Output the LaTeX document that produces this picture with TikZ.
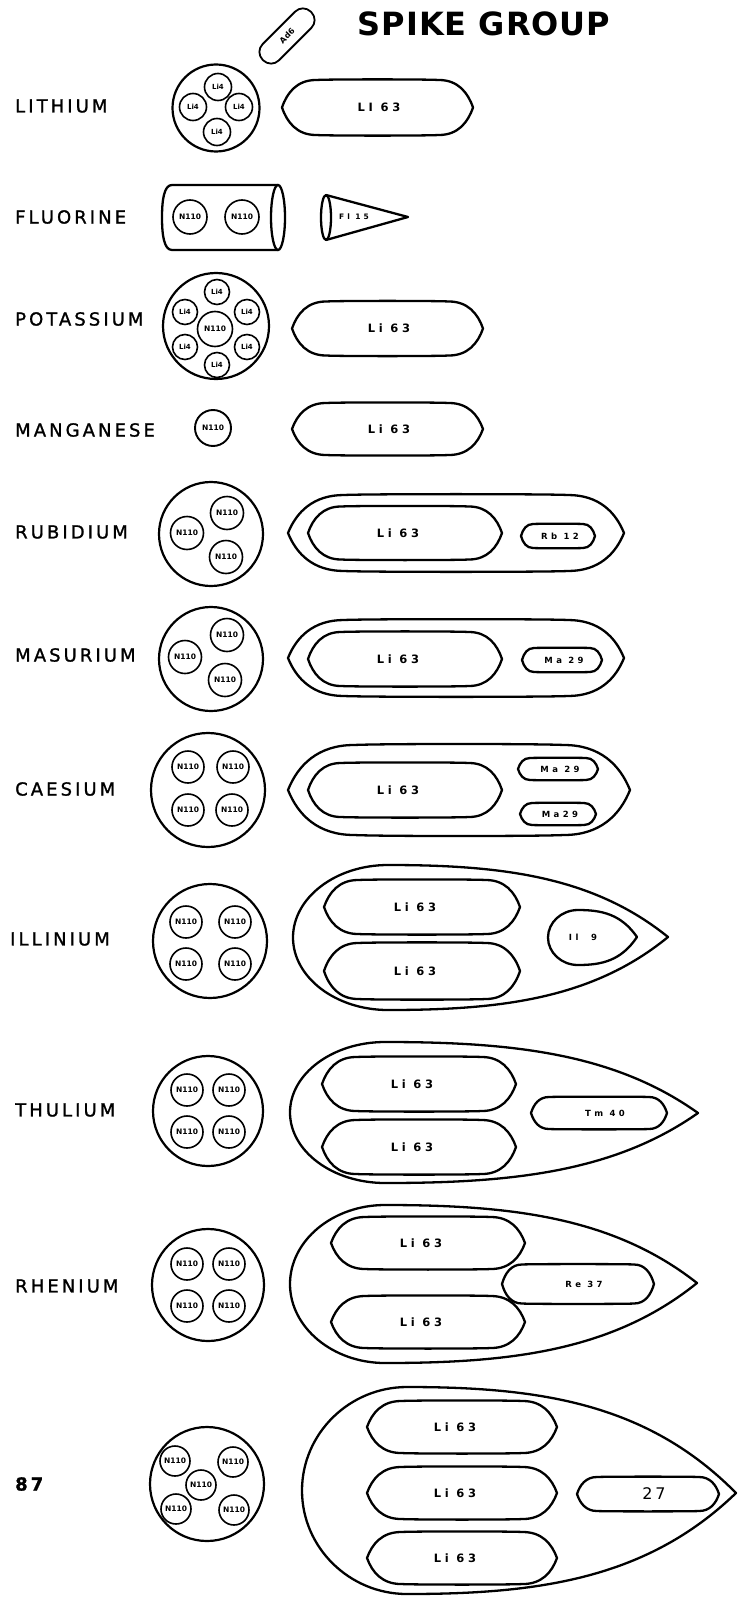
\documentclass[tikz,border=0pt]{standalone}
\usepackage{fontspec}
\setmainfont{DejaVu Sans}
\newfontfamily\labfont[LetterSpace=17,FakeBold=1.2]{DejaVu Sans}
\newfontfamily\titfont[LetterSpace=3]{DejaVu Sans}
\newfontfamily\smfont[LetterSpace=32]{DejaVu Sans}
\newfontfamily\ssfont[LetterSpace=40]{DejaVu Sans}
\newfontfamily\tnfont{DejaVu Sans}
% lens: [style]{cx}{cy}{half width}{half height}{end length}
\newcommand{\lensp}[6][]{%
 \draw[shp,#1] ({#2-#4},{#3})
  .. controls ({#2-#4+0.15*#6},{#3-0.55*#5}) and ({#2-#4+0.45*#6},{#3-#5}) .. ({#2-#4+#6},{#3-#5})
  .. controls ({#2-#4+1.4*#6},{#3-1.03*#5}) and ({#2+#4-1.4*#6},{#3-1.03*#5}) .. ({#2+#4-#6},{#3-#5})
  .. controls ({#2+#4-0.45*#6},{#3-#5}) and ({#2+#4-0.15*#6},{#3-0.55*#5}) .. ({#2+#4},{#3})
  .. controls ({#2+#4-0.15*#6},{#3+0.55*#5}) and ({#2+#4-0.45*#6},{#3+#5}) .. ({#2+#4-#6},{#3+#5})
  .. controls ({#2+#4-1.4*#6},{#3+1.03*#5}) and ({#2-#4+1.4*#6},{#3+1.03*#5}) .. ({#2-#4+#6},{#3+#5})
  .. controls ({#2-#4+0.45*#6},{#3+#5}) and ({#2-#4+0.15*#6},{#3+0.55*#5}) .. ({#2-#4},{#3}) -- cycle;}
% teardrop: {xl}{xt}{yt}{yb}{tip y}{rx}
\newcommand{\tdrop}[6]{%
 \draw[shp] ({#2},{#5})
  .. controls ({#2-0.27*(#2-#1-#6)},{#5-0.85*(#5-#3)}) and ({#1+#6+0.4*(#2-#1-#6)},{#3}) .. ({#1+#6},{#3})
  .. controls ({#1+0.45*#6},{#3}) and ({#1},{0.5*(#3+#4)-0.275*(#4-#3)}) .. ({#1},{0.5*(#3+#4)})
  .. controls ({#1},{0.5*(#3+#4)+0.275*(#4-#3)}) and ({#1+0.45*#6},{#4}) .. ({#1+#6},{#4})
  .. controls ({#1+#6+0.4*(#2-#1-#6)},{#4}) and ({#2-0.27*(#2-#1-#6)},{#5+0.85*(#4-#5)}) .. ({#2},{#5}) -- cycle;}
\tikzset{
 elem/.style={font=\labfont\fontsize{18}{18}\selectfont, anchor=west, inner sep=0pt},
 ttl/.style={font=\titfont\bfseries\fontsize{32}{32}\selectfont, inner sep=0pt},
 nuc/.style={draw, circle, line width=1.6pt, inner sep=0pt, font=\tnfont\bfseries\fontsize{7.5}{7.5}\selectfont},
 nucs/.style={nuc, font=\tnfont\bfseries\fontsize{7}{7}\selectfont},
 big/.style={draw, circle, line width=2.2pt, inner sep=0pt},
 shp/.style={line width=2.3pt, line join=round},
 ltxt/.style={font=\smfont\bfseries\fontsize{11.5}{11.5}\selectfont, inner sep=0pt},
 stxt/.style={font=\ssfont\bfseries\fontsize{8.5}{8.5}\selectfont, inner sep=0pt},
}
\begin{document}
\begin{tikzpicture}[x=1pt,y=-1pt]
\useasboundingbox (0,0) rectangle (737,1597);

\node[ttl] (title) at (484,24) {SPIKE GROUP};
\node[draw, line width=1.8pt, rounded corners=11pt, minimum width=68pt, minimum height=23pt, inner sep=0pt, rotate=45, font=\tnfont\bfseries\fontsize{8}{8}\selectfont] (ad6) at (287,36) {Ad6};

% labels
\node[elem] (l1) at (15,106) {LITHIUM};
\node[elem] (l2) at (15,217) {FLUORINE};
\node[elem] (l3) at (15,319) {POTASSIUM};
\node[elem] (l4) at (15,430) {MANGANESE};
\node[elem] (l5) at (15,532) {RUBIDIUM};
\node[elem] (l6) at (15,655) {MASURIUM};
\node[elem] (l7) at (15,789) {CAESIUM};
\node[elem] (l8) at (10,939) {ILLINIUM};
\node[elem] (l9) at (15,1110) {THULIUM};
\node[elem] (l10) at (15,1286) {RHENIUM};
\node[elem, font=\labfont\bfseries\fontsize{18}{18}\selectfont] (l11) at (15,1484) {87};

% Lithium
\node[big, minimum size=87pt] (c1) at (216,108) {};
\node[nucs, minimum size=27pt] (c1a) at (218,87) {Li4};
\node[nucs, minimum size=27pt] (c1b) at (193,107) {Li4};
\node[nucs, minimum size=27pt] (c1c) at (239,107) {Li4};
\node[nucs, minimum size=27pt] (c1d) at (217,132) {Li4};
\lensp{377.5}{107.5}{95.5}{27.5}{34}
\node[ltxt] (t1) at (379,107) {LI 63};

% Fluorine
\draw[shp] (278,185) -- (172,185) .. controls (164,185) and (162,200) .. (162,217.5)
  .. controls (162,235) and (164,250) .. (172,250) -- (278,250);
\draw[shp] (278,217.5) ellipse[x radius=7, y radius=32.5];
\node[nuc, minimum size=34pt] (c2a) at (190,217) {N110};
\node[nuc, minimum size=34pt] (c2b) at (242,217) {N110};
\draw[shp] (326,195) -- (408,217) -- (326,240);
\draw[shp] (326,217.5) ellipse[x radius=5, y radius=22.5];
\node[stxt, font=\ssfont\bfseries\fontsize{7.5}{7.5}\selectfont] (t2) at (354,217) {Fl 15};

% Potassium
\node[big, minimum size=106pt] (c3) at (216,326) {};
\node[nuc, minimum size=35pt] (c3n) at (215,329) {N110};
\node[nucs, minimum size=25pt] (c3a) at (217,292) {Li4};
\node[nucs, minimum size=25pt] (c3b) at (185,312) {Li4};
\node[nucs, minimum size=25pt] (c3c) at (247,312) {Li4};
\node[nucs, minimum size=25pt] (c3d) at (185,347) {Li4};
\node[nucs, minimum size=25pt] (c3e) at (247,347) {Li4};
\node[nucs, minimum size=25pt] (c3f) at (217,365) {Li4};
\lensp{387.5}{328.5}{95.5}{27}{34}
\node[ltxt] (t3) at (389,328) {Li 63};

% Manganese
\node[nuc, minimum size=36pt, line width=1.9pt] (c4) at (213,428) {N110};
\lensp{387.5}{429}{95.5}{26}{34}
\node[ltxt] (t4) at (389,429) {Li 63};

% Rubidium
\node[big, minimum size=104pt] (c5) at (211,534) {};
\node[nuc, minimum size=33pt] (c5a) at (227,513) {N110};
\node[nuc, minimum size=33pt] (c5b) at (187,533) {N110};
\node[nuc, minimum size=33pt] (c5c) at (226,557) {N110};
\lensp{456}{533}{168}{38}{56}
\lensp{405}{533}{97}{26.5}{33}
\node[ltxt] (t5) at (398,533) {Li 63};
\lensp{558}{536}{37}{12}{12}
\node[stxt] (t5b) at (560,536) {Rb 12};

% Masurium
\node[big, minimum size=104pt] (c6) at (211,659) {};
\node[nuc, minimum size=33pt] (c6a) at (227,635) {N110};
\node[nuc, minimum size=33pt] (c6b) at (185,657) {N110};
\node[nuc, minimum size=33pt] (c6c) at (225,680) {N110};
\lensp{456}{658}{168}{38}{56}
\lensp{405}{659}{97}{27}{33}
\node[ltxt] (t6) at (398,659) {Li 63};
\lensp{562}{660}{40}{12}{12}
\node[stxt] (t6b) at (564,660) {Ma 29};

% Caesium
\node[big, minimum size=114pt] (c7) at (208,790) {};
\node[nuc, minimum size=32pt] (c7a) at (188,767) {N110};
\node[nuc, minimum size=32pt] (c7b) at (233,767) {N110};
\node[nuc, minimum size=32pt] (c7c) at (188,810) {N110};
\node[nuc, minimum size=32pt] (c7d) at (232,810) {N110};
\lensp{459}{790}{171}{45}{66}
\lensp{405}{790}{97}{27}{33}
\node[ltxt] (t7) at (398,790) {Li 63};
\lensp{558}{769}{40}{11}{12}
\node[stxt] (t7b) at (560,769) {Ma 29};
\lensp{558}{814}{38}{11}{12}
\node[stxt] (t7c) at (560,814) {Ma29};

% Illinium
\node[big, minimum size=114pt] (c8) at (210,941) {};
\node[nuc, minimum size=32pt] (c8a) at (186,922) {N110};
\node[nuc, minimum size=32pt] (c8b) at (235,922) {N110};
\node[nuc, minimum size=32pt] (c8c) at (186,964) {N110};
\node[nuc, minimum size=32pt] (c8d) at (235,964) {N110};
\tdrop{293}{668}{865}{1010}{937}{95}
\lensp{422}{907}{98}{27}{34}
\node[ltxt] (t8) at (415,907) {Li 63};
\lensp{422}{971}{98}{28}{34}
\node[ltxt] (t8b) at (415,971) {Li 63};
\tdrop{548}{637}{910}{965}{937}{30}
\node[stxt] (t8c) at (583,937) {Il\ \ 9};

% Thulium
\node[big, minimum size=110pt] (c9) at (208,1111) {};
\node[nuc, minimum size=32pt] (c9a) at (187,1090) {N110};
\node[nuc, minimum size=32pt] (c9b) at (229,1090) {N110};
\node[nuc, minimum size=32pt] (c9c) at (187,1132) {N110};
\node[nuc, minimum size=32pt] (c9d) at (229,1132) {N110};
\tdrop{290}{698}{1042}{1183}{1113}{95}
\lensp{419}{1084}{97}{27}{34}
\node[ltxt] (t9) at (412,1084) {Li 63};
\lensp{419}{1147}{97}{27}{34}
\node[ltxt] (t9b) at (412,1147) {Li 63};
\lensp{599}{1113}{68}{16}{18}
\node[stxt] (t9c) at (605,1113) {Tm 40};

% Rhenium
\node[big, minimum size=112pt] (c10) at (208,1285) {};
\node[nuc, minimum size=32pt] (c10a) at (187,1264) {N110};
\node[nuc, minimum size=32pt] (c10b) at (229,1264) {N110};
\node[nuc, minimum size=32pt] (c10c) at (187,1306) {N110};
\node[nuc, minimum size=32pt] (c10d) at (229,1306) {N110};
\tdrop{290}{697}{1205}{1363}{1283}{95}
\lensp{428}{1243}{97}{26}{34}
\node[ltxt] (t10) at (421,1243) {Li 63};
\lensp{578}{1284}{76}{19.5}{20}
\node[stxt] (t10b) at (584,1284) {Re 37};
\lensp{428}{1322}{97}{26}{34}
\node[ltxt] (t10c) at (421,1322) {Li 63};

% 87
\node[big, minimum size=114pt] (c11) at (207,1484) {};
\node[nuc, minimum size=30pt] (c11a) at (175,1461) {N110};
\node[nuc, minimum size=30pt] (c11b) at (233,1462) {N110};
\node[nuc, minimum size=30pt] (c11c) at (201,1485) {N110};
\node[nuc, minimum size=30pt] (c11d) at (176,1509) {N110};
\node[nuc, minimum size=30pt] (c11e) at (234,1510) {N110};
\tdrop{302}{736}{1387}{1594}{1493}{105}
\lensp{462}{1427}{95}{26}{34}
\node[ltxt] (t11) at (455,1427) {Li 63};
\lensp{462}{1493}{95}{26}{34}
\node[ltxt] (t11b) at (455,1493) {Li 63};
\lensp{462}{1558}{95}{26}{34}
\node[ltxt] (t11c) at (455,1558) {Li 63};
\lensp{648}{1494}{71}{17}{20}
\node[font=\tnfont\fontsize{16}{16}\selectfont, inner sep=0pt] (t11d) at (654,1494) {2\,7};
\end{tikzpicture}
\end{document}
